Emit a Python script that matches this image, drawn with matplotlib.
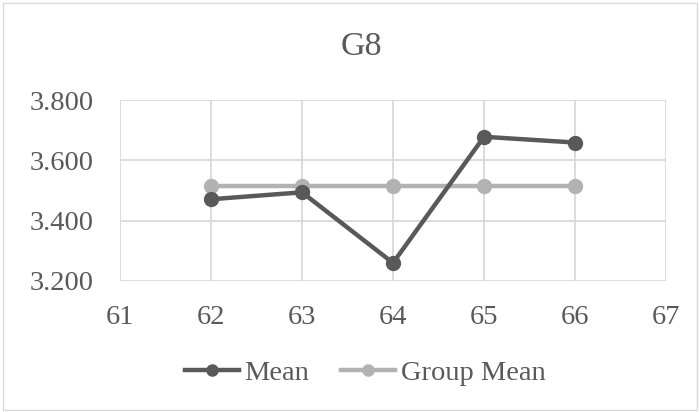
import matplotlib
matplotlib.use("Agg")
import matplotlib.pyplot as plt

years = [62, 63, 64, 65, 66]
mean_vals = [3.471, 3.494, 3.260, 3.678, 3.659]
group_mean_vals = [3.514, 3.514, 3.514, 3.514, 3.514]
y_ticks = [3.2, 3.4, 3.6, 3.8]
x_ticks = [61, 62, 63, 64, 65, 66, 67]

plt.rcParams['font.family'] = ['Liberation Serif', 'DejaVu Serif']
text_color = '#595959'

W, H = 699, 412
fig = plt.figure(figsize=(W / 100, H / 100), dpi=100)
fig.patch.set_facecolor('white')
ax = fig.add_axes([120 / W, 1 - 281 / H, (666 - 120) / W, (281 - 100) / H])

ax.plot(years, mean_vals, color='#595959', lw=3.2, marker='o', ms=10,
        label='Mean', zorder=3)
ax.plot(years, group_mean_vals, color='#b2b2b2', lw=3.2, marker='o', ms=10,
        label='Group Mean', zorder=2)

ax.set_xlim(61, 67)
ax.set_ylim(3.2, 3.8)
ax.set_xticks(x_ticks)
ax.set_yticks(y_ticks)
ax.set_yticklabels([f"{v:.3f}" for v in y_ticks])
ax.grid(True, color='#d9d9d9', lw=1.3)
ax.set_axisbelow(True)
for s in ax.spines.values():
    s.set_visible(False)
ax.tick_params(length=0, labelsize=20.5, colors=text_color)
ax.tick_params(axis='y', pad=19)
ax.tick_params(axis='x', pad=17)

fig.text(361 / W, 1 - 46.5 / H, 'G8', ha='center', va='center',
         fontsize=24.5, color=text_color)

leg = fig.legend(loc='center', bbox_to_anchor=(365 / W, 1 - 373 / H), ncol=2,
                 frameon=False, fontsize=20.5, labelcolor=text_color,
                 handlelength=1.9, handletextpad=0.2, columnspacing=1.1,
                 markerscale=0.8, borderaxespad=0, borderpad=0)

border = plt.Rectangle((2.5 / W, 2.5 / H), 1 - 5 / W, 1 - 5 / H,
                       transform=fig.transFigure, fill=False,
                       edgecolor='#d9d9d9', lw=1)
fig.add_artist(border)

fig.savefig('out.png', dpi=100)
